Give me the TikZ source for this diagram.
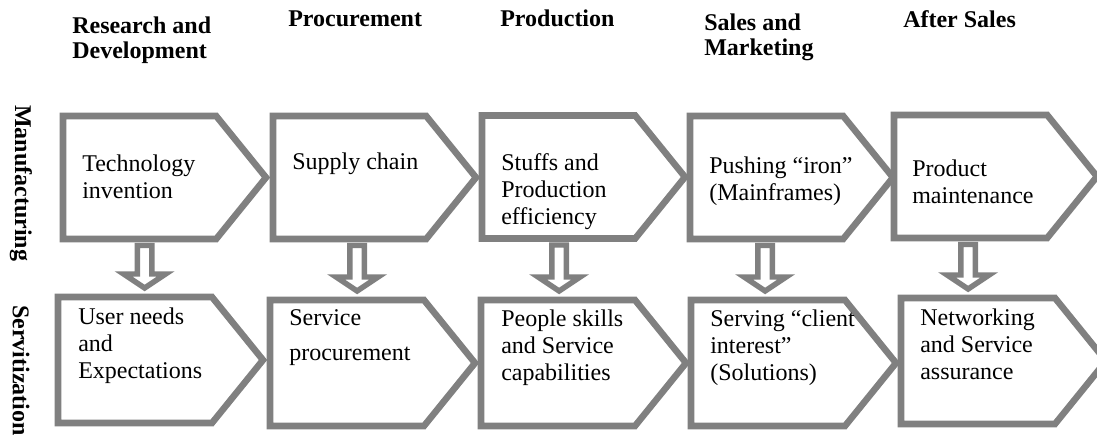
\documentclass[tikz,border=0pt]{standalone}
\usepackage{fontspec}
\setmainfont{Liberation Serif}
\usetikzlibrary{shapes.symbols,calc}

\definecolor{rahmengrau}{RGB}{128,128,128}

% Pfeil nach unten, #1 oben, #2 Spitze
\newcommand{\blockdown}[2]{%
  \draw[blockpfeil] let \p1=(#1), \p2=(#2) in
    (\x1-5.4pt,\y1) -- (\x1-5.4pt,\y2+10.5pt) -- (\x1-15.75pt,\y2+10.5pt) -- (\x1,\y2)
    -- (\x1+15.75pt,\y2+10.5pt) -- (\x1+5.4pt,\y2+10.5pt) -- (\x1+5.4pt,\y1) -- cycle;}

\tikzset{
  chev/.style={shape=signal, signal to=east, signal pointer angle=102, draw=rahmengrau,
    line width=4.9pt, fill=white, inner sep=0pt, outer sep=0pt, anchor=west},
  chevoben/.style={chev, minimum width=152.25pt, minimum height=92.25pt},
  chevunten/.style={chev, minimum width=153.75pt, minimum height=94.5pt},
  blockpfeil/.style={draw=rahmengrau, line width=4.1pt, fill=white, line join=miter},
  txt/.style={inner sep=0pt, anchor=base west, align=left, font=\fontsize{18}{20.25}\selectfont},
  kopf/.style={inner sep=0pt, anchor=base west, align=left, font=\fontsize{18}{18.75}\selectfont\bfseries},
  seite/.style={inner sep=0pt, anchor=west, rotate=-90, font=\fontsize{18}{18.75}\selectfont\bfseries}
}

\begin{document}
\begin{tikzpicture}[x=0.75pt,y=-0.75pt]
	\useasboundingbox (0,0) rectangle (1097,436);
	% Spaltenkoepfe (base = letzte Zeile)
	\node[kopf] (k1) at (72,58) {Research and\\Development};
	\node[kopf] (k2) at (288,26) {Procurement};
	\node[kopf] (k3) at (500,26) {Production};
	\node[kopf] (k4) at (704,55) {Sales and\\Marketing};
	\node[kopf] (k5) at (903,27) {After Sales};
	% Zeilen
	\node[seite] (z1) at (21,105) {Manufacturing};
	\node[seite] (z2) at (21,305) {Servitization};
	% obere Reihe
	\node[chevoben] (m1) at (63,177.5) {};
	\node[chevoben] (m2) at (273,177.5) {};
	\node[chevoben] (m3) at (482,177) {};
	\node[chevoben] (m4) at (690,177.5) {};
	\node[chevoben] (m5) at (894,176.5) {};
	% untere Reihe
	\node[chevunten] (s1) at (58,360) {};
	\node[chevunten] (s2) at (270,363) {};
	\node[chevunten] (s3) at (481,363) {};
	\node[chevunten] (s4) at (691,363) {};
	\node[chevunten] (s5) at (901,361) {};
	% Pfeile
	\foreach \i/\dx in {1/5,2/7.5,3/0.5,4/-1.5,5/-2.5}
		\blockdown{$(m\i.south)+(\dx,6.5)$}{$(s\i.north)+(0,-9)$};
	% Texte
	\node[txt] (tm1) at (82,198) {Technology\\invention};
	\node[txt] (tm2) at (292,169) {Supply chain};
	\node[txt] (tm3) at (501,224) {Stuffs and\\Production\\efficiency};
	\node[txt] (tm4) at (709,200) {Pushing “iron”\\(Mainframes)};
	\node[txt] (tm5) at (912,203) {Product\\maintenance};
	\node[txt] (ts1) at (78,378) {User needs\\and\\Expectations};
	\node[txt] (ts2) at (289,360) {Service\\[5.5pt]procurement};
	\node[txt] (ts3) at (501,380) {People skills\\and Service\\capabilities};
	\node[txt] (ts4) at (710,380) {Serving “client\\interest”\\(Solutions)};
	\node[txt] (ts5) at (920,379) {Networking\\and Service\\assurance};
\end{tikzpicture}
\end{document}
